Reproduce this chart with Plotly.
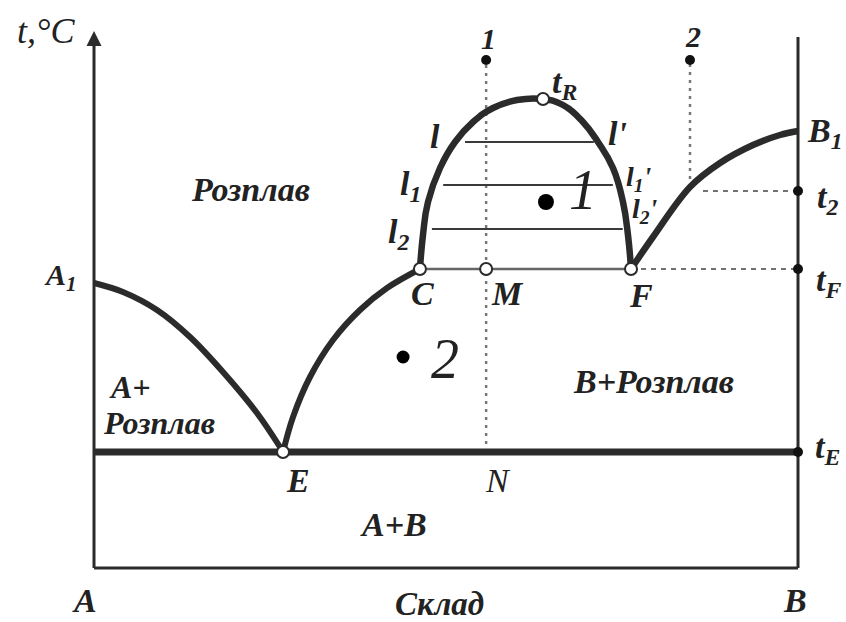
import plotly.graph_objects as go

# ---- data (composition x in %, temperature t in arbitrary units) ----
liq_A_x = [0, 4.12, 8.95, 13.64, 18.32, 23.15, 26.42, 26.85]
liq_A_t = [285, 276, 258, 231, 196, 155, 121, 116]

liq_EC_x = [26.85, 28.27, 30.68, 33.95, 37.78, 41.62, 46.3]
liq_EC_t = [116, 151, 191, 228, 258, 280, 299]

dome_x = [46.3, 46.73, 47.44, 49.15, 51.28, 53.84, 56.68, 60.09, 63.78,
          66.62, 69.46, 71.59, 73.72, 75.14, 75.85, 76.28]
dome_t = [299, 333, 366, 400, 426, 446, 460, 468, 469,
          463, 446, 426, 400, 366, 333, 299]

liq_FB_x = [76.28, 79.40, 84.66, 88.92, 93.61, 97.44, 100]
liq_FB_t = [299, 331, 381, 405, 423, 433, 437]

t_E = 116
t_F = 299
t_2 = 377
t_R = 469
x_E, x_C, x_M, x_F, x_R = 26.85, 46.3, 55.7, 76.28, 63.78
x_1, x_2 = 55.7, 84.66
t_top = 508

tie_t = [426, 383, 339]
tie_x0 = [52.7, 49.6, 48.0]
tie_x1 = [71.0, 73.7, 75.1]

pt1 = (64.2, 366)
pt2 = (43.9, 211)

INK = "#2b2b2b"
FONT = "Liberation Serif"

fig = go.Figure()

def line(x, y, w, color=INK, dash="solid", shape="linear", smooth=1.0):
    fig.add_trace(go.Scatter(x=x, y=y, mode="lines", showlegend=False, hoverinfo="skip",
                             line=dict(color=color, width=w, dash=dash, shape=shape, smoothing=smooth)))

# axes frame
line([0, 0], [0, 530], 3)
line([0, 100], [0, 0], 3)
line([100, 100], [0, 531], 3)

# dotted verticals
line([x_1, x_1], [t_E, t_top], 2.5, color="#777777", dash="3px,5px")
line([x_2, x_2], [381, t_top], 2.5, color="#777777", dash="3px,5px")

# dashed horizontals
line([x_F, 100], [t_F, t_F], 1.5, color="#444444", dash="5px,5px")
line([86.5, 100], [t_2, t_2], 1.5, color="#444444", dash="5px,5px")

# tie lines
for tt, a, b in zip(tie_t, tie_x0, tie_x1):
    line([a, b], [tt, tt], 2.2, color="#3a3a3a")
line([x_C, x_F], [t_F, t_F], 2.5, color="#666666")

# eutectic horizontal
line([0, 100], [t_E, t_E], 7)

# liquidus curves
line(liq_A_x, liq_A_t, 6, shape="spline")
line(liq_EC_x, liq_EC_t, 6, shape="spline")
line(dome_x, dome_t, 6.5, shape="spline", smooth=1.3)
line(liq_FB_x, liq_FB_t, 6.5, shape="spline")

# arrow at top of temperature axis
fig.add_annotation(x=0, y=537, ax=0, ay=520, xref="x", yref="y", axref="x", ayref="y",
                   showarrow=True, arrowhead=2, arrowsize=1.2, arrowwidth=2.5, arrowcolor=INK, text="")

# black points
fig.add_trace(go.Scatter(x=[x_1, x_2, 100, 100, 100], y=[t_top, t_top, t_2, t_F, t_E], mode="markers",
                         showlegend=False, hoverinfo="skip",
                         marker=dict(color="#111111", size=10, opacity=1, line=dict(width=0))))
fig.add_trace(go.Scatter(x=[pt1[0]], y=[pt1[1]], mode="markers",
                         showlegend=False, hoverinfo="skip",
                         marker=dict(color="#000000", size=16, opacity=1, line=dict(width=0))))
fig.add_trace(go.Scatter(x=[pt2[0]], y=[pt2[1]], mode="markers",
                         showlegend=False, hoverinfo="skip",
                         marker=dict(color="#000000", size=13, opacity=1, line=dict(width=0))))
# white (open) points
fig.add_trace(go.Scatter(x=[x_C, x_M, x_F, x_E, x_R], y=[t_F, t_F, t_F, t_E, t_R], mode="markers",
                         showlegend=False, hoverinfo="skip",
                         marker=dict(color="white", size=12, opacity=1, line=dict(color=INK, width=2))))

def label(txt, x, y, size=34, bold=True, anchor="center"):
    t = "<i>" + txt + "</i>"
    if bold:
        t = "<b>" + t + "</b>"
    fig.add_annotation(x=x, y=y, xref="x", yref="y", text=t, showarrow=False, xanchor=anchor,
                       yanchor="middle", font=dict(family=FONT, size=size, color="#222222"))

label("t,°C", -6.8, 537, size=36, bold=False)
label("A<sub>1</sub>", -4.8, 291, size=30)
label("Розплав", 22.2, 379)
label("A+", 1.85, 181, size=32, anchor="left")
label("Розплав", 1.0, 145, size=32, anchor="left")
label("E", 29.0, 88)
label("A+B", 42.5, 44)
label("A", -1.3, -32)
label("Склад", 49.1, -36, size=33)
label("B", 99.6, -32)
label("N", 57.4, 88, bold=False)
label("B+Розплав", 79.5, 187)
label("t<sub>E</sub>", 104.2, 119)
label("2", 49.9, 209, size=56, bold=False)
label("1", 69.5, 378, size=56, bold=False)
label("l", 48.4, 432)
label("l<sub>1</sub>", 44.9, 382)
label("l<sub>2</sub>", 43.2, 334)
label("l'", 74.3, 435)
label("l<sub>1</sub>'", 77.4, 390, size=28)
label("l<sub>2</sub>'", 78.3, 358, size=28)
label("t<sub>R</sub>", 66.9, 484)
label("C", 46.7, 275)
label("M", 58.8, 275)
label("F", 77.7, 273)
label("1", 56.0, 530, size=30)
label("2", 85.1, 532, size=30)
label("B<sub>1</sub>", 103.9, 435)
label("t<sub>2</sub>", 104.2, 369)
label("t<sub>F</sub>", 104.4, 286)

# axis ranges chosen so the whole figure area is data space (no clipping)
fig.update_layout(width=846, height=622, margin=dict(l=0, r=0, t=0, b=0),
                  plot_bgcolor="white", paper_bgcolor="white",
                  xaxis=dict(range=[-94 / 7.04, 752 / 7.04], visible=False, fixedrange=True),
                  yaxis=dict(range=[-54, 568], visible=False, fixedrange=True))

fig.write_html("out.html", config={"displayModeBar": False},
               post_script="document.body.style.margin='0px';")
